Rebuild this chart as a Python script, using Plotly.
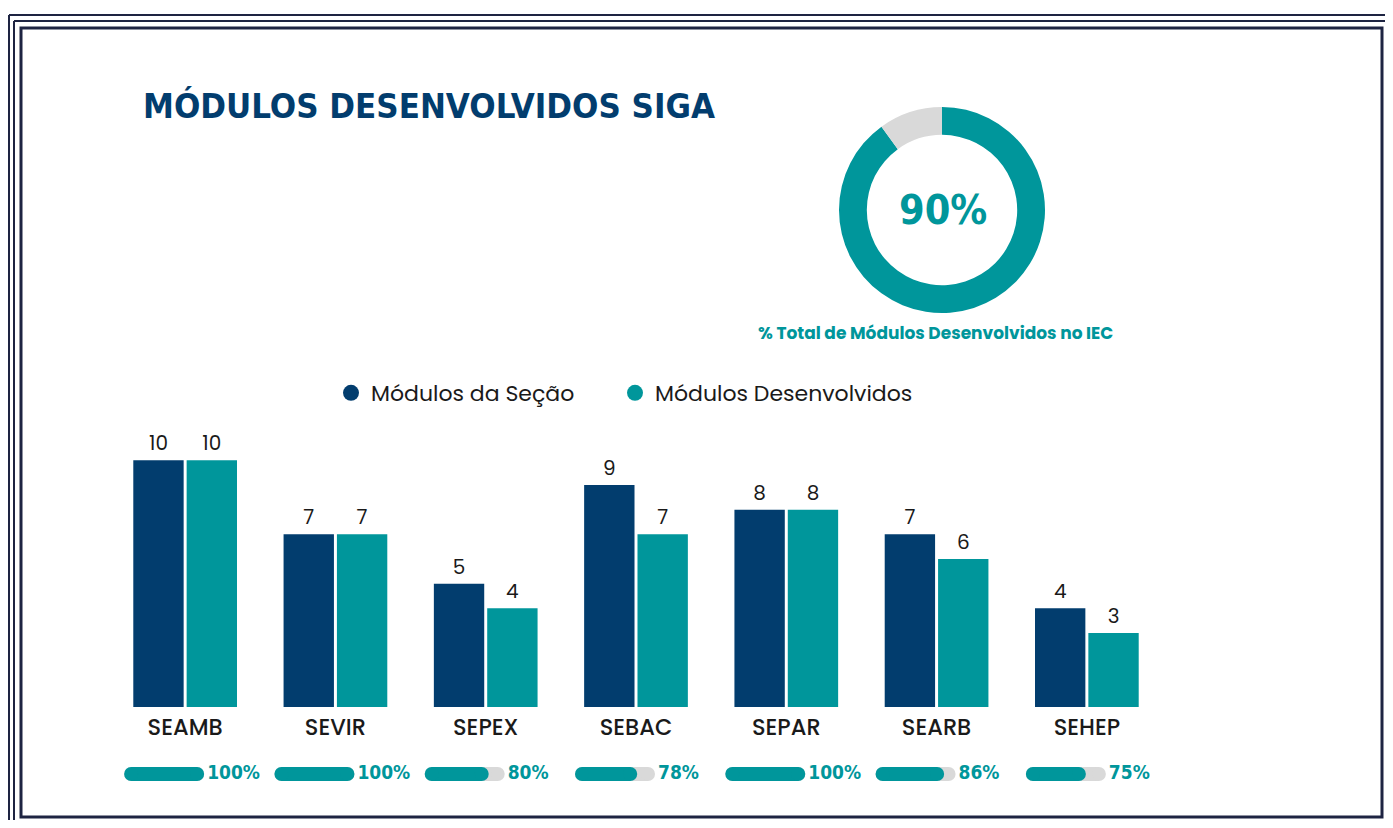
import plotly.graph_objects as go

# data
secoes = ["SEAMB", "SEVIR", "SEPEX", "SEBAC", "SEPAR", "SEARB", "SEHEP"]
modulos_secao = [10, 7, 5, 9, 8, 7, 4]
modulos_desenv = [10, 7, 4, 7, 8, 6, 3]

NAVY = "#023d6e"
TEAL = "#00969b"
GRAY = "#d9d9d9"
FRAME = "#1e2442"

# the page body has an 8px margin, so the figure starts at (8, 8);
# keep it inside the window so nothing overflows
OFF = 8
W, H = 1393 - 2 * OFF, 828 - 2 * OFF

COND = "Noto Sans ExtraCondensed, Noto Sans Condensed, DejaVu Sans Condensed, Roboto, sans-serif"
GEO = "Poppins, Inter, Noto Sans, sans-serif"


def px(x):
    return (x - OFF) / W


def py(y):
    return 1 - (y - OFF) / H


idx = list(range(len(secoes)))
pct = [d / s for d, s in zip(modulos_desenv, modulos_secao)]
total_pct = sum(modulos_desenv) / sum(modulos_secao)

fig = go.Figure()

# bars
fig.add_trace(go.Bar(
    x=idx, y=modulos_secao, name="Módulos da Seção",
    marker=dict(color=NAVY, line=dict(width=0)),
    text=modulos_secao, textposition="outside", cliponaxis=False,
    textfont=dict(size=20, color="#1a1a1a", family=GEO),
    showlegend=False
))
fig.add_trace(go.Bar(
    x=idx, y=modulos_desenv, name="Módulos Desenvolvidos",
    marker=dict(color=TEAL, line=dict(width=0)),
    text=modulos_desenv, textposition="outside", cliponaxis=False,
    textfont=dict(size=20, color="#1a1a1a", family=GEO),
    showlegend=False
))

# legend with round markers (one legend box per entry)
for nm, col, lg in [("Módulos da Seção", NAVY, "legend"), ("Módulos Desenvolvidos", TEAL, "legend2")]:
    fig.add_trace(go.Scatter(
        x=[None], y=[None], mode="markers", name=nm, legend=lg,
        marker=dict(symbol="circle", size=23, color=col)
    ))

# progress pills under each section
unit = 150.3          # pixels per category
pill_len = 80 / unit
cap = 14 / unit
start = -61 / unit + cap / 2
bx, fx = [], []
for i, p in zip(idx, pct):
    s = i + start
    bx += [s, s + pill_len - cap, None]
    fx += [s, s + p * pill_len - cap, None]
fy = ([0.5, 0.5, None]) * len(idx)

fig.add_trace(go.Scatter(
    x=bx, y=fy, mode="lines+markers", yaxis="y2",
    line=dict(color=GRAY, width=14), marker=dict(color=GRAY, size=14),
    showlegend=False, hoverinfo="skip"
))
fig.add_trace(go.Scatter(
    x=fx, y=fy, mode="lines+markers", yaxis="y2",
    line=dict(color=TEAL, width=14), marker=dict(color=TEAL, size=14),
    showlegend=False, hoverinfo="skip"
))
fig.add_trace(go.Scatter(
    x=[i + 22 / unit for i in idx], y=[0.5] * len(idx), yaxis="y2",
    mode="text", text=[f"{round(p * 100)}%" for p in pct],
    textposition="middle right",
    textfont=dict(size=19, color=TEAL, family=COND, weight=700),
    showlegend=False, hoverinfo="skip", cliponaxis=False
))

# donut
fig.add_trace(go.Pie(
    values=[total_pct, 1 - total_pct], labels=["Desenvolvidos", "Restantes"],
    hole=0.73, sort=False, direction="clockwise", rotation=0,
    marker=dict(colors=[TEAL, GRAY], line=dict(width=0)),
    textinfo="none", showlegend=False, hoverinfo="skip",
    domain=dict(x=[px(839), px(1045)], y=[py(313), py(107)])
))

# frame
P = dict(xref="paper", yref="paper")
shapes = [
    dict(type="line", x0=px(9), x1=px(9), y0=py(15), y1=0, line=dict(color=FRAME, width=2), **P),
    dict(type="line", x0=px(9), x1=1, y0=py(15), y1=py(15), line=dict(color=FRAME, width=2), **P),
    dict(type="line", x0=px(14), x1=px(14), y0=py(21), y1=0, line=dict(color=FRAME, width=2), **P),
    dict(type="line", x0=px(14), x1=1, y0=py(21), y1=py(21), line=dict(color=FRAME, width=2), **P),
    dict(type="rect", x0=px(21), x1=px(1382), y0=py(817), y1=py(28), line=dict(color=FRAME, width=3), **P),
]

annotations = [
    dict(text="<b>MÓDULOS DESENVOLVIDOS SIGA</b>", x=px(141), y=py(106),
         xanchor="left", yanchor="middle", showarrow=False,
         font=dict(size=34.5, color=NAVY, family=COND), **P),
    dict(text=f"<b>{round(total_pct * 100)}%</b>", x=px(943), y=py(210),
         xanchor="center", yanchor="middle", showarrow=False,
         font=dict(size=41, color=TEAL, family=COND), **P),
    dict(text="<b>% Total de Módulos Desenvolvidos no IEC</b>", x=px(936), y=py(333),
         xanchor="center", yanchor="middle", showarrow=False,
         font=dict(size=17, color=TEAL, family=GEO), **P),
]

leg_font = dict(size=22, color="#1a1a1a", family=GEO)

fig.update_layout(
    width=W, height=H, autosize=False,
    margin=dict(l=0, r=0, t=0, b=0),
    paper_bgcolor="white", plot_bgcolor="white",
    barmode="group", bargap=0.29, bargroupgap=0.056,
    xaxis=dict(domain=[px(110), px(1162)], range=[-0.5, 6.5],
               tickvals=idx, ticktext=secoes, showgrid=False, zeroline=False,
               showline=False, ticks="", ticklabelstandoff=4,
               tickfont=dict(size=22.5, color="#1a1a1a", family=GEO, weight=500)),
    yaxis=dict(domain=[py(707), py(411)], range=[0, 12], visible=False),
    yaxis2=dict(domain=[py(799), py(749)], range=[0, 1], visible=False),
    legend=dict(orientation="h", x=px(331), y=py(393), xanchor="left", yanchor="middle",
                font=leg_font, itemwidth=30),
    legend2=dict(orientation="h", x=px(615), y=py(393), xanchor="left", yanchor="middle",
                 font=leg_font, itemwidth=30),
    shapes=shapes, annotations=annotations,
)

fig.write_html("out.html")
